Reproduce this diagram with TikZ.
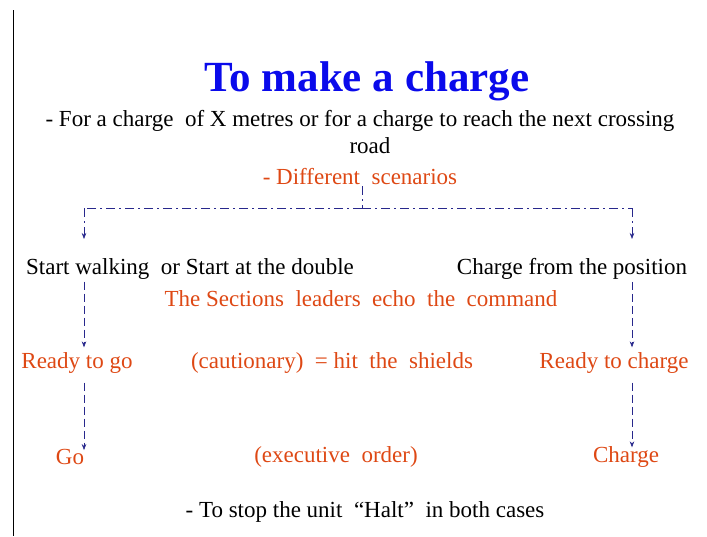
\documentclass[tikz,border=0pt]{standalone}
\usepackage{fontspec}
\setmainfont{Liberation Serif}
\usetikzlibrary{arrows.meta,positioning,calc}
\definecolor{titleblue}{RGB}{10,10,235}
\definecolor{cmdred}{RGB}{222,72,20}
\definecolor{linkblue}{RGB}{40,40,140}

\begin{document}
\begin{tikzpicture}[x=1pt,y=-1pt,
  txt/.style={inner sep=1pt,font=\fontsize{23}{26}\selectfont},
  cmd/.style={txt,text=cmdred},
  link/.style={linkblue,semithick,-{Stealth[length=6pt,width=4.5pt]}},
  tree/.style={linkblue,semithick,dash pattern=on 9pt off 4pt on 2pt off 4pt},
  flow/.style={link,dash pattern=on 8pt off 4pt}
]
\useasboundingbox (0,0) rectangle (707,536);
\draw[black,line width=1pt] (13,10) -- (13,536);
% Heading and intro lines
\node[font=\bfseries\fontsize{43}{46}\selectfont,text=titleblue] (title) at (367,81) {To make a charge};
\node[txt] (intro) at (360,121) {- For a charge \ of X metres or for a charge to reach the next crossing};
\node[txt] (road)  at (370,146) {road};
\node[cmd] (scen)  at (360,177) {- Different \ scenarios};
% Row 1: the two scenarios
\node[txt] (walk)  at (190,269) {Start walking \ or Start at the double};
\node[txt] (pos)   at (572,269) {Charge from the position};
\node[cmd] (echo)  at (361,299) {The Sections \ leaders \ echo \ the \ command};
% Row 2: cautionary
\node[cmd] (rgo)   at (77,363)  {Ready to go};
\node[cmd] (caut)  at (332,363) {(cautionary) \ = hit \ the \ shields};
\node[cmd] (rchg)  at (614,363) {Ready to charge};
% Row 3: executive
\node[cmd] (go)    at (70,457)  {Go};
\node[cmd] (exec)  at (336,457) {(executive \ order)};
\node[cmd] (chg)   at (626,457) {Charge};
\node[txt] (halt)  at (365,512) {- To stop the unit \ ``Halt'' \ in both cases};

% tree from scenarios to both columns
\coordinate (fork) at (362,208);
\coordinate (lt)   at (84,208);
\coordinate (rt)   at (632,208);
\draw[tree] (scen.south -| fork) -- (fork);
\draw[tree] (fork) -- (lt);
\draw[tree] (fork) -- (rt);
\draw[tree,link] (lt) -- (84,239);
\draw[tree,link] (rt) -- (632,239);
% down the columns
\draw[flow] ($(walk.south -| lt)+(0,1)$) -- ($(rgo.north -| lt)+(0,-4)$);
\draw[flow] ($(pos.south -| rt)+(0,1)$)  -- ($(rchg.north -| rt)+(0,-4)$);
\draw[flow] ($(rgo.south -| lt)+(0,8)$) -- ($(go.north -| lt)+(0,2)$);
\draw[flow] ($(rchg.south -| rt)+(0,8)$) -- ($(chg.north -| rt)+(0,2)$);
\end{tikzpicture}
\end{document}
